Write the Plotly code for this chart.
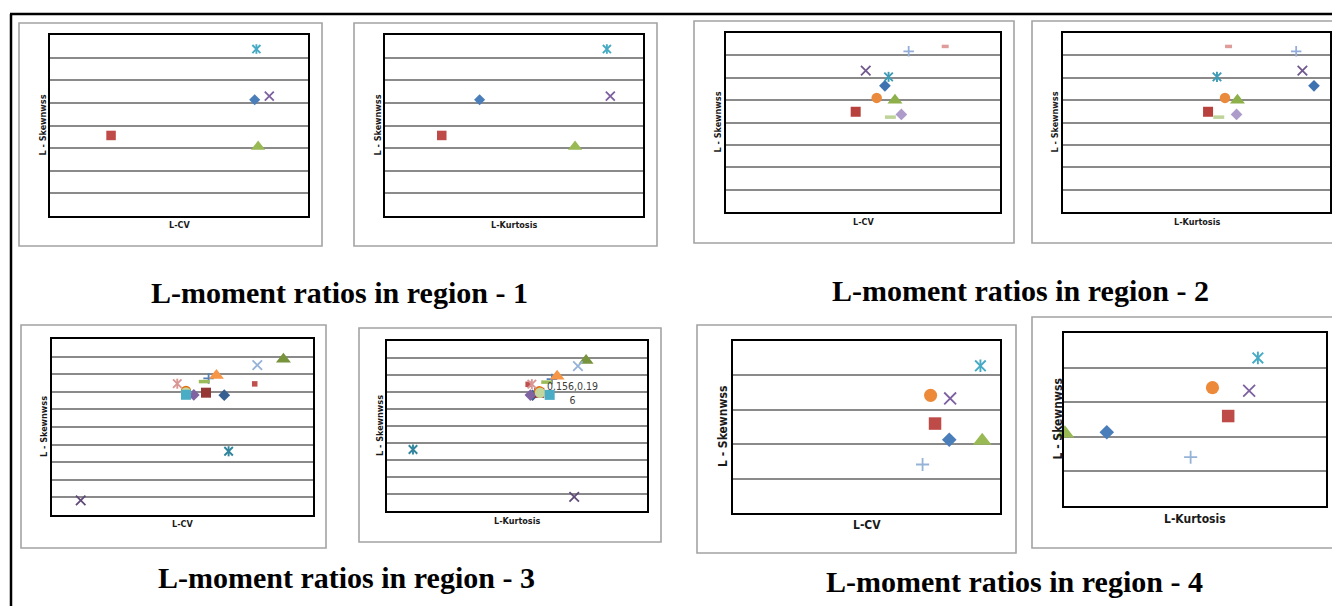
import plotly.graph_objects as go

W, H = 1340, 606
OFF = 8  # page body margin of the html page

# ---------------- data (no tick labels are shown) ----------------
# Region 1 : 5 sites
r1_lcv   = [0.238, 0.071, 0.242, 0.255, 0.240]
r1_lkurt = [0.110, 0.066, 0.221, 0.262, 0.258]
r1_lskew = [0.257, 0.178, 0.153, 0.265, 0.369]

# Region 2 : 10 sites
r2_lcv   = [0.174, 0.142, 0.185, 0.153, 0.178, 0.165, 0.200, 0.240, 0.180, 0.192]
r2_lkurt = [0.282, 0.163, 0.196, 0.269, 0.173, 0.182, 0.262, 0.186, 0.175, 0.195]
r2_lskew = [0.282, 0.224, 0.250, 0.316, 0.302, 0.255, 0.359, 0.370, 0.212, 0.218]

# Region 3 : 15 sites
r3_lcv   = [0.198, 0.177, 0.266, 0.033, 0.203, 0.154, 0.180, 0.233, 0.175, 0.236, 0.144, 0.189, 0.163, 0.154, 0.154]
r3_lkurt = [0.146, 0.155, 0.218, 0.202, -0.015, 0.155, 0.172, 0.140, 0.165, 0.207, 0.145, 0.179, 0.143, 0.156, 0.169]
r3_lskew = [0.181, 0.195, 0.385, -0.417, -0.138, 0.205, 0.276, 0.245, 0.258, 0.352, 0.246, 0.292, 0.182, 0.196, 0.183]
r3_label_index = 13   # the point carrying the data label

# Region 4 : 7 sites
r4_lcv   = [0.243, 0.227, 0.280, 0.244, 0.278, 0.222, 0.213]
r4_lkurt = [0.049, 0.188, 0.001, 0.212, 0.222, 0.170, 0.145]
r4_lskew = [0.1065, 0.130, 0.105, 0.1665, 0.214, 0.171, 0.0705]

titles = ["L-moment ratios in region - 1", "L-moment ratios in region - 2",
          "L-moment ratios in region - 3", "L-moment ratios in region - 4"]
x_titles = ["L-CV", "L-Kurtosis"]
y_title = "L - Skewnwss"

# ---------------- styles ----------------
r1_style = [("diamond", "#4A7EBB"), ("square", "#BE4B48"), ("triangle", "#98B954"),
            ("x", "#7D60A0"), ("star", "#46AAC5")]
r2_style = [("diamond", "#3F72B0"), ("square", "#B8403D"), ("triangle", "#8DB04A"),
            ("x", "#71588F"), ("star", "#3E9BB5"), ("circle", "#EA8A3C"),
            ("plus", "#93AEDB"), ("dash_s", "#DE9C9A"), ("dash_l", "#BDD39A"),
            ("diamond", "#AD9BC9")]
r3_style = [("diamond", "#376092"), ("square", "#953735"), ("triangle", "#77933C"),
            ("x", "#604A7B"), ("star", "#31859C"), ("circle", "#E46C0A"),
            ("plus", "#4F81BD"), ("sq_s", "#C0504D"), ("dash_l", "#9BBB59"),
            ("x", "#95B3D7"), ("star", "#D99694"), ("triangle", "#F79646"),
            ("diamond", "#8064A2"), ("circle", "#C3D69B"), ("square", "#4BACC6")]
r4_style = [("diamond", "#4A7EBB"), ("square", "#BE4B48"), ("triangle", "#98B954"),
            ("x", "#7D60A0"), ("star", "#46AAC5"), ("circle", "#EC8A3A"),
            ("plus", "#95B3D7")]


def px(x):
    return (x - OFF) / W


def py(y):
    return 1 - (y - OFF) / H


# panel geometry in pixels: frame box, plot box, y-label x, x-label y, label font size
panels = [
    dict(frame=(19, 23, 322, 246), plot=(50, 35, 308, 216), ylx=43, xly=225, fs=9,
         x=r1_lcv, y=r1_lskew, st=r1_style, xr=(0, 0.3), yr=(0, 0.4), dt=0.05, sz=9.5, xt=0),
    dict(frame=(354, 23, 657, 246), plot=(385, 35, 643, 216), ylx=378, xly=225, fs=9,
         x=r1_lkurt, y=r1_lskew, st=r1_style, xr=(0, 0.3), yr=(0, 0.4), dt=0.05, sz=9.5, xt=1),
    dict(frame=(694, 21, 1014, 243), plot=(726, 33, 1000, 212), ylx=718, xly=222, fs=9,
         x=r2_lcv, y=r2_lskew, st=r2_style, xr=(0, 0.3), yr=(0, 0.4), dt=0.05, sz=10, xt=0),
    dict(frame=(1032, 21, 1360, 243), plot=(1063, 33, 1330, 212), ylx=1055, xly=222, fs=9,
         x=r2_lkurt, y=r2_lskew, st=r2_style, xr=(0, 0.3), yr=(0, 0.4), dt=0.05, sz=10, xt=1),
    dict(frame=(21, 325, 326, 548), plot=(52, 339, 313, 515), ylx=44, xly=524, fs=9,
         x=r3_lcv, y=r3_lskew, st=r3_style, xr=(0, 0.3), yr=(-0.5, 0.5), dt=0.1, sz=10, xt=0),
    dict(frame=(359, 328, 661, 542), plot=(387, 341, 647, 511), ylx=380, xly=521, fs=9,
         x=r3_lkurt, y=r3_lskew, st=r3_style, xr=(-0.05, 0.30), yr=(-0.5, 0.5), dt=0.1, sz=10, xt=1),
    dict(frame=(697, 325, 1016, 553), plot=(733, 341, 1000, 513), ylx=723, xly=525, fs=12,
         x=r4_lcv, y=r4_lskew, st=r4_style, xr=(0, 0.3), yr=(0, 0.25), dt=0.05, sz=12.5, xt=0),
    dict(frame=(1032, 317, 1360, 548), plot=(1064, 333, 1326, 506), ylx=1057, xly=519, fs=12,
         x=r4_lkurt, y=r4_lskew, st=r4_style, xr=(0, 0.3), yr=(0, 0.25), dt=0.05, sz=12.5, xt=1),
]

fig = go.Figure()
layout = dict(width=W, height=H, margin=dict(l=0, r=0, t=0, b=0),
              paper_bgcolor="white", plot_bgcolor="white", showlegend=False)
shapes = []
annotations = []


def add_marker(xv, yv, kind, color, s, xa, ya):
    base = dict(x=[xv], y=[yv], mode="markers", xaxis=xa, yaxis=ya,
                cliponaxis=False, hoverinfo="x+y")
    if kind == "diamond":
        m = dict(symbol="diamond", size=s * 0.9, color=color, line=dict(width=0))
    elif kind == "square":
        m = dict(symbol="square", size=s, color=color, line=dict(width=0))
    elif kind == "sq_s":
        m = dict(symbol="square", size=s * 0.55, color=color, line=dict(width=0))
    elif kind == "triangle":
        m = dict(symbol="triangle-up", size=s * 1.3, color=color, line=dict(width=0))
    elif kind == "circle":
        m = dict(symbol="circle", size=s * 1.05, color=color, line=dict(width=0))
    elif kind == "x":
        m = dict(symbol="x-thin-open", size=s * 0.95, color=color, line=dict(width=1.8, color=color))
    elif kind == "plus":
        m = dict(symbol="cross-thin-open", size=s * 0.75, color=color, line=dict(width=1.8, color=color))
    elif kind == "dash_s":
        m = dict(symbol="line-ew-open", size=s * 0.5, color=color, line=dict(width=3.5, color=color))
    elif kind == "dash_l":
        m = dict(symbol="line-ew-open", size=s * 0.78, color=color, line=dict(width=3.5, color=color))
    elif kind == "star":
        fig.add_trace(go.Scatter(**base, marker=dict(symbol="x-thin-open", size=s * 0.85, color=color,
                                                     line=dict(width=1.9, color=color))))
        m = dict(symbol="line-ns-open", size=s * 0.72, color=color, line=dict(width=1.9, color=color))
    fig.add_trace(go.Scatter(**base, marker=m))


for i, p in enumerate(panels):
    k = i + 1
    xa = "x" if k == 1 else f"x{k}"
    ya = "y" if k == 1 else f"y{k}"
    x0, y0, x1, y1 = p["plot"]
    axis_common = dict(showticklabels=False, ticks="", zeroline=False, showline=True, mirror=True,
                       linecolor="black", linewidth=2)
    layout["xaxis" if k == 1 else f"xaxis{k}"] = dict(
        domain=[px(x0), px(x1)], range=list(p["xr"]), showgrid=False,
        anchor=ya, **axis_common)
    layout["yaxis" if k == 1 else f"yaxis{k}"] = dict(
        domain=[py(y1), py(y0)], range=list(p["yr"]), showgrid=True, tick0=p["yr"][0], dtick=p["dt"],
        gridcolor="#8A8A8A", gridwidth=2, anchor=xa, **axis_common)
    fx0, fy0, fx1, fy1 = p["frame"]
    shapes.append(dict(type="rect", xref="paper", yref="paper", x0=px(fx0), x1=px(fx1),
                       y0=py(fy1), y1=py(fy0), line=dict(color="#A3A3A3", width=1.6), layer="below"))
    for xv, yv, (kind, col) in zip(p["x"], p["y"], p["st"]):
        add_marker(xv, yv, kind, col, p["sz"], xa, ya)
    annotations.append(dict(text=f"<b>{x_titles[p['xt']]}</b>", xref="paper", yref="paper",
                            x=px((x0 + x1) / 2), y=py(p["xly"]), showarrow=False,
                            xanchor="center", yanchor="middle",
                            font=dict(family="DejaVu Sans Condensed", size=p["fs"], color="#1a1a1a")))
    annotations.append(dict(text=f"<b>{y_title}</b>", xref="paper", yref="paper",
                            x=px(p["ylx"]), y=py((y0 + y1) / 2), showarrow=False, textangle=-90,
                            xanchor="center", yanchor="middle",
                            font=dict(family="DejaVu Sans Condensed", size=p["fs"], color="#1a1a1a")))

# data label on region 3, L-Kurtosis panel
lx, ly = r3_lkurt[r3_label_index], r3_lskew[r3_label_index]
lab = f"{lx},{ly}"
annotations.append(dict(text=lab[:-1] + "<br>" + lab[-1:], x=lx, y=ly, xref="x6", yref="y6",
                        showarrow=False, xanchor="left", yanchor="middle", xshift=5, align="center",
                        font=dict(family="DejaVu Sans Condensed", size=10.5, color="#404040")))

# region titles
for t, (cx, cy) in zip(titles, [(339, 292), (1021, 290), (346, 577), (1014, 581)]):
    annotations.append(dict(text=f"<b>{t}</b>", xref="paper", yref="paper", x=px(cx), y=py(cy),
                            showarrow=False, xanchor="center", yanchor="middle",
                            font=dict(family="Liberation Serif", size=30, color="black")))

# outer black border (top and left visible)
shapes.append(dict(type="line", xref="paper", yref="paper", x0=px(10), x1=px(1360),
                   y0=py(14), y1=py(14), line=dict(color="black", width=2.5)))
shapes.append(dict(type="line", xref="paper", yref="paper", x0=px(11), x1=px(11),
                   y0=py(14), y1=py(620), line=dict(color="black", width=2.5)))

layout["shapes"] = shapes
layout["annotations"] = annotations
fig.update_layout(**layout)
fig.write_html("out.html")
